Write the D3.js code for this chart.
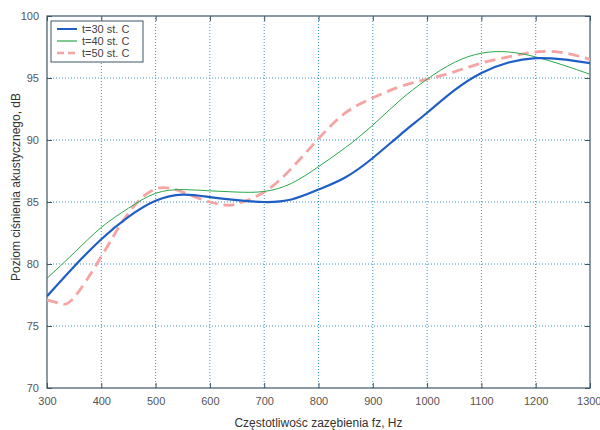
<!DOCTYPE html>
<html>
<head>
<meta charset="utf-8">
<script src="https://cdn.jsdelivr.net/npm/d3@7"></script>
<style>
  body { margin: 0; background: #fff; }
  svg { font-family: "Liberation Sans", Arial, sans-serif; }
</style>
</head>
<body>
<svg id="chart"></svg>
<script>
// Data
const freq = [300, 350, 400, 450, 500, 550, 600, 650, 700, 750, 800, 850, 900, 950, 1000, 1050, 1100, 1150, 1200, 1250, 1300];
const t30 = [77.4, 79.8, 82.0, 83.8, 85.1, 85.6, 85.4, 85.15, 85.0, 85.2, 86.0, 87.0, 88.55, 90.4, 92.2, 94.0, 95.4, 96.25, 96.6, 96.5, 96.2];
const t40 = [78.85, 80.9, 82.95, 84.5, 85.7, 86.0, 85.9, 85.8, 85.85, 86.5, 87.85, 89.4, 91.2, 93.2, 94.9, 96.25, 97.0, 97.1, 96.7, 96.05, 95.3];
const freq50 = [300, 325, 350, 400, 450, 500, 550, 600, 630, 650, 700, 750, 800, 850, 900, 950, 1000, 1050, 1100, 1150, 1200, 1250, 1300];
const t50 = [77.1, 76.8, 77.3, 80.6, 84.1, 86.05, 85.8, 85.0, 84.75, 84.85, 85.8, 87.7, 90.1, 92.2, 93.4, 94.3, 94.9, 95.5, 96.2, 96.7, 97.1, 97.05, 96.5];
const xTicks = [300, 400, 500, 600, 700, 800, 900, 1000, 1100, 1200, 1300];
const yTicks = [70, 75, 80, 85, 90, 95, 100];
const labels = ["t=30 st. C", "t=40 st. C", "t=50 st. C"];

const width = 600, height = 430;
const margin = { top: 16, right: 10, bottom: 42, left: 47 };
const svg = d3.select("#chart").attr("width", width).attr("height", height);

const x = d3.scaleLinear().domain([300, 1300]).range([margin.left, width - margin.right]);
const y = d3.scaleLinear().domain([70, 100]).range([height - margin.bottom, margin.top]);

const axisColor = "#3d5666";
const gridColor = "#3b93c4";

// Grid
svg.append("g").selectAll("line").data(xTicks.slice(1, -1)).join("line")
  .attr("x1", d => x(d)).attr("x2", d => x(d))
  .attr("y1", y(70)).attr("y2", y(100))
  .attr("stroke", gridColor).attr("stroke-width", 1).attr("stroke-dasharray", "1,2");
svg.append("g").selectAll("line").data(yTicks.slice(1, -1)).join("line")
  .attr("x1", x(300)).attr("x2", x(1300))
  .attr("y1", d => y(d)).attr("y2", d => y(d))
  .attr("stroke", gridColor).attr("stroke-width", 1).attr("stroke-dasharray", "1,2");

// Axes (ticks pointing inward, mirrored on top and right)
const tickStyle = g => {
  g.select(".domain").remove();
  g.selectAll(".tick line").attr("stroke", axisColor);
  g.selectAll(".tick text").attr("fill", "#555").attr("font-size", 11);
};
const xAxis = svg.append("g").attr("transform", `translate(0,${y(70)})`)
  .call(d3.axisBottom(x).tickValues(xTicks).tickFormat(d3.format("d"))
    .tickSizeInner(-5).tickSizeOuter(0).tickPadding(9))
  .call(tickStyle);
// last label sits against the right edge
xAxis.selectAll(".tick text").filter(d => d === 1300)
  .attr("text-anchor", "end").attr("dx", 11);
svg.append("g").attr("transform", `translate(0,${y(100)})`)
  .call(d3.axisTop(x).tickValues(xTicks).tickSizeInner(-5).tickSizeOuter(0).tickFormat(""))
  .call(tickStyle);
svg.append("g").attr("transform", `translate(${x(300)},0)`)
  .call(d3.axisLeft(y).tickValues(yTicks).tickSizeInner(-5).tickSizeOuter(0).tickPadding(8))
  .call(tickStyle);
svg.append("g").attr("transform", `translate(${x(1300)},0)`)
  .call(d3.axisRight(y).tickValues(yTicks).tickSizeInner(-5).tickSizeOuter(0).tickFormat(""))
  .call(tickStyle);

svg.append("rect")
  .attr("x", x(300)).attr("y", y(100))
  .attr("width", x(1300) - x(300)).attr("height", y(70) - y(100))
  .attr("fill", "none").attr("stroke", axisColor).attr("stroke-width", 1.2);

// Curves
const line = d3.line().x(d => x(d[0])).y(d => y(d[1])).curve(d3.curveNatural);
const series = [
  { xs: freq50, ys: t50, color: "#f5a3a3", width: 2.8, dash: "11,6" },
  { xs: freq, ys: t40, color: "#2aa84a", width: 1, dash: null },
  { xs: freq, ys: t30, color: "#1f5ec4", width: 2.2, dash: null }
];
svg.append("clipPath").attr("id", "plotclip").append("rect")
  .attr("x", x(300)).attr("y", y(100))
  .attr("width", x(1300) - x(300)).attr("height", y(70) - y(100));
svg.append("g").attr("clip-path", "url(#plotclip)")
  .selectAll("path").data(series).join("path")
  .attr("d", s => line(s.xs.map((v, i) => [v, s.ys[i]])))
  .attr("fill", "none")
  .attr("stroke", s => s.color)
  .attr("stroke-width", s => s.width)
  .attr("stroke-dasharray", s => s.dash);

// Legend
const legendItems = [
  { label: labels[0], color: "#1f5ec4", width: 2, dash: null },
  { label: labels[1], color: "#2aa84a", width: 1.2, dash: null },
  { label: labels[2], color: "#f5a3a3", width: 2.6, dash: "7,4" }
];
const legend = svg.append("g").attr("transform", "translate(51,21)");
legend.append("rect").attr("width", 92).attr("height", 41)
  .attr("fill", "#fff").attr("stroke", axisColor).attr("stroke-width", 1);
legend.selectAll("line").data(legendItems).join("line")
  .attr("x1", 6).attr("x2", 26)
  .attr("y1", (d, i) => 8 + i * 12).attr("y2", (d, i) => 8 + i * 12)
  .attr("stroke", d => d.color).attr("stroke-width", d => d.width)
  .attr("stroke-dasharray", d => d.dash);
legend.selectAll("text").data(legendItems).join("text")
  .attr("x", 31).attr("y", (d, i) => 12 + i * 12)
  .attr("font-size", 11).attr("fill", "#444")
  .text(d => d.label);

// Axis titles
svg.append("text")
  .attr("x", (x(300) + x(1300)) / 2).attr("y", 427)
  .attr("text-anchor", "middle").attr("font-size", 12).attr("fill", "#333")
  .text("Częstotliwośc zazębienia fz, Hz");
svg.append("text")
  .attr("transform", `translate(20,${(y(70) + y(100)) / 2 - 15}) rotate(-90)`)
  .attr("text-anchor", "middle").attr("font-size", 12).attr("fill", "#333")
  .text("Poziom ciśnienia akustycznego, dB");
</script>
</body>
</html>
